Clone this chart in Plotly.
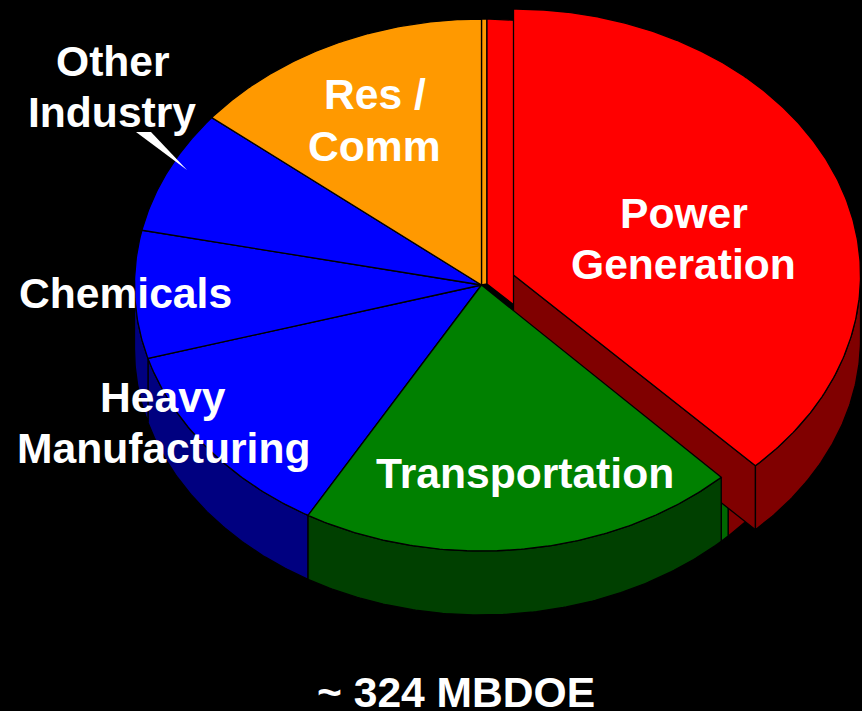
import numpy as np
import plotly.graph_objects as go

# Ring of the pie, clockwise from 12 o'clock (percent of the circle)
slice_names = ["Res sliver", "Power (base)", "Transport sliver", "Transportation",
               "Heavy Manufacturing", "Chemicals", "Other Industry", "Res / Comm"]
slice_values = [0.25, 37.17, 0.44, 20.47, 12.22, 7.75, 7.53, 14.17]
slice_top = ["#FF9900", "#FF0000", "#008000", "#008000", "#0000FF", "#0000FF", "#0000FF", "#FF9900"]
slice_wall = ["#7F4C00", "#800000", "#006800", "#004000", "#000080", "#000080", "#000080", "#7F4C00"]

# Pulled-out slice
pulled_name = "Power Generation"
pulled_value = 37.72
pulled_top = "#FF0000"
pulled_wall = "#800000"

# Labels: text, x, y in page pixels
label_text = ["Power", "Generation", "Transportation", "Res /", "Comm", "Other", "Industry",
              "Chemicals", "Heavy", "Manufacturing", "~ 324 MBDOE"]
label_x = [683.5, 683.5, 525, 375, 374, 112.5, 112, 125, 162.5, 163, 456]
label_y = [213, 264, 472.5, 94, 146, 61, 112, 292.5, 397, 448, 692]

W, H = 862, 711
RX, RY, DEPTH = 347, 266, 64
BASE_C = (481.5, 285)
BASE_C2 = (487, 284)   # apex of the slightly shifted base Power slice
PULL_C = (513.5, 275)
LINE = "#000000"


def arc(c, a0, a1, dy=0):
    t = np.radians(np.linspace(a0, a1, max(int(abs(a1 - a0) * 2), 2) + 1))
    return c[0] + RX * np.sin(t), c[1] - RY * np.cos(t) + dy


def poly(fig, x, y, color, name):
    fig.add_trace(go.Scatter(x=np.append(x, x[0]), y=np.append(y, y[0]), mode="lines", fill="toself",
                             fillcolor=color, line=dict(color=LINE, width=1.3), name=name,
                             hoverinfo="name", showlegend=False))


def wall(fig, c, a0, a1, color, name):
    # visible outer wall only where the rim faces the viewer (90..270 degrees)
    lo, hi = max(a0, 90), min(a1, 270)
    if hi <= lo:
        return
    x0, y0 = arc(c, lo, hi)
    x1, y1 = arc(c, hi, lo, DEPTH)
    poly(fig, np.r_[x0, x1], np.r_[y0, y1], color, name)


def wedge(fig, c, a0, a1, color, name, apexes=None):
    x, y = arc(c, a0, a1)
    ax = [p[0] for p in (apexes or [c])]
    ay = [p[1] for p in (apexes or [c])]
    poly(fig, np.r_[ax, x], np.r_[ay, y], color, name)


fig = go.Figure()

edges = np.cumsum([0] + slice_values) / sum(slice_values) * 360
front = slice_names.index("Transportation")
apex_sets = {0: [BASE_C2, BASE_C], 1: [BASE_C2]}

for i, n in enumerate(slice_names):
    if i != front:
        wall(fig, BASE_C, edges[i], edges[i + 1], slice_wall[i], n)
for i, n in enumerate(slice_names):
    if i != front:
        wedge(fig, BASE_C, edges[i], edges[i + 1], slice_top[i], n, apex_sets.get(i))

# pulled-out slice: the cut face sits behind the Transportation slice
end = pulled_value / 100 * 360
ex, ey = arc(PULL_C, end, end)
ex, ey = ex[0], ey[0]
poly(fig, np.array([PULL_C[0], ex, ex, PULL_C[0]]),
     np.array([PULL_C[1], ey, ey + DEPTH, PULL_C[1] + DEPTH]), pulled_wall, pulled_name)

wall(fig, BASE_C, edges[front], edges[front + 1], slice_wall[front], slice_names[front])
wedge(fig, BASE_C, edges[front], edges[front + 1], slice_top[front], slice_names[front])

x0, y0 = arc(PULL_C, 90, end)
x1, y1 = arc(PULL_C, end, 90, DEPTH)
poly(fig, np.r_[x0, x1], np.r_[y0, y1], pulled_wall, pulled_name)
wedge(fig, PULL_C, 0, end, pulled_top, pulled_name)

for t, x, y in zip(label_text, label_x, label_y):
    fig.add_annotation(x=x, y=y, text=t, showarrow=False, xanchor="center", yanchor="middle",
                       font=dict(family="Liberation Sans", size=42.6, color="#FFFFFF", weight="bold"))

fig.update_layout(
    width=W, height=H, margin=dict(l=0, r=0, t=0, b=0), paper_bgcolor="#000000", plot_bgcolor="#000000",
    showlegend=False,
    xaxis=dict(range=[0, W], visible=False, fixedrange=True),
    yaxis=dict(range=[H, 0], visible=False, fixedrange=True),
    shapes=[dict(type="path", path="M 136 132 L 151 132 L 187 170 Z", fillcolor="#FFFFFF",
                 line=dict(width=0), layer="above")],
)
fig.write_html("out.html", config=dict(displayModeBar=False),
               post_script="document.body.style.margin='0';document.body.style.background='#000';"
                           "document.documentElement.style.overflow='hidden';")
